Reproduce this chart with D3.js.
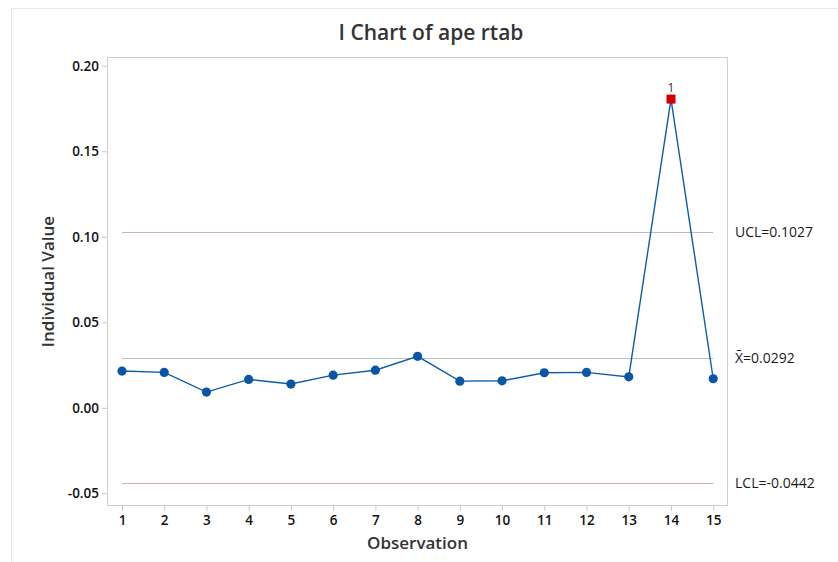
<!DOCTYPE html>
<html>
<head>
<meta charset="utf-8">
<script src="https://cdn.jsdelivr.net/npm/d3@7"></script>
<style>
  html, body { margin: 0; padding: 0; background: #fff; }
  svg { display: block; font-family: "Open Sans", "Noto Sans", sans-serif; }
</style>
</head>
<body>
<svg id="chart" width="838" height="562"></svg>
<script>
// Individual observations of ape rtab
const observations = [1, 2, 3, 4, 5, 6, 7, 8, 9, 10, 11, 12, 13, 14, 15];
const values = [0.0215, 0.0207, 0.0092, 0.0166, 0.0139, 0.0191, 0.0220, 0.0301,
                0.0156, 0.0158, 0.0205, 0.0207, 0.0181, 0.1805, 0.0170];

// Control limits
const limitNames = ["UCL", "X\u0304", "LCL"];
const limitValues = [0.1027, 0.0292, -0.0442];

// Tick labels
const yTicks = [0.20, 0.15, 0.10, 0.05, 0.00, -0.05];
const xTicks = observations;

const svg = d3.select("#chart");
const W = 838, H = 562;
const plot = { left: 107, right: 728, top: 57, bottom: 506 };

// outer figure border
svg.append("rect")
  .attr("x", 11.5).attr("y", 8.5)
  .attr("width", W).attr("height", H)
  .attr("fill", "none").attr("stroke", "#e8e8e8");

const x = d3.scaleLinear().domain([0.645, 15.35]).range([plot.left, plot.right]);
const y = d3.scaleLinear().domain([-0.0574, 0.2051]).range([plot.bottom, plot.top]);

// plot frame
svg.append("rect")
  .attr("x", plot.left + 0.5).attr("y", plot.top + 0.5)
  .attr("width", plot.right - plot.left - 1).attr("height", plot.bottom - plot.top - 1)
  .attr("fill", "none").attr("stroke", "#cfcfcf");

// axes
const yAxis = d3.axisLeft(y).tickValues(yTicks).tickFormat(d => d.toFixed(2)).tickSize(5).tickPadding(3);
const gy = svg.append("g").attr("transform", `translate(${plot.left},0)`).call(yAxis);
const xAxis = d3.axisBottom(x).tickValues(xTicks).tickFormat(d3.format("d")).tickSize(5).tickPadding(4);
const gx = svg.append("g").attr("transform", `translate(0,${plot.bottom})`).call(xAxis);
[gy, gx].forEach(g => {
  g.select(".domain").remove();
  g.selectAll(".tick line").attr("stroke", "#c8c8c8");
  g.selectAll(".tick text").attr("fill", "#111").style("font-size", "13.5px")
    .style("font-weight", "600")
    .style("font-family", '"Open Sans", sans-serif');
});

// control limit lines
const limitColors = ["#cdb0b0", "#b0cbb0", "#cdb0b0"];
svg.append("g").selectAll("line")
  .data(limitValues)
  .join("line")
  .attr("x1", x(1)).attr("x2", x(15))
  .attr("y1", d => Math.round(y(d)) + 0.5).attr("y2", d => Math.round(y(d)) + 0.5)
  .attr("stroke", (d, i) => limitColors[i]).attr("stroke-width", 1);

svg.append("g").selectAll("text")
  .data(limitValues)
  .join("text")
  .attr("x", 735).attr("y", d => y(d) + 5)
  .attr("fill", "#1a1a1a").style("font-size", "14px")
  .text((d, i) => `${limitNames[i]}=${d.toFixed(4)}`);

// series line
const pts = observations.map((o, i) => ({ o, v: values[i] }));
svg.append("path")
  .datum(pts)
  .attr("fill", "none").attr("stroke", "#0b5cad").attr("stroke-width", 1.4)
  .attr("d", d3.line().x(d => x(d.o)).y(d => y(d.v)));

const ucl = limitValues[0], lcl = limitValues[2];
const inControl = pts.filter(d => d.v <= ucl && d.v >= lcl);
const outControl = pts.filter(d => d.v > ucl || d.v < lcl);

svg.append("g").selectAll("circle")
  .data(inControl)
  .join("circle")
  .attr("cx", d => x(d.o)).attr("cy", d => y(d.v)).attr("r", 4.6)
  .attr("fill", "#0a55a5");

svg.append("g").selectAll("rect")
  .data(outControl)
  .join("rect")
  .attr("x", d => x(d.o) - 4.5).attr("y", d => y(d.v) - 4.5)
  .attr("width", 9).attr("height", 9)
  .attr("fill", "#d40000");

svg.append("g").selectAll("text")
  .data(outControl)
  .join("text")
  .attr("x", d => x(d.o)).attr("y", d => y(d.v) - 7)
  .attr("text-anchor", "middle").attr("fill", "#333").style("font-size", "12px")
  .text("1");

// titles
svg.append("text")
  .attr("x", 431).attr("y", 40)
  .attr("text-anchor", "middle").attr("fill", "#333")
  .style("font-size", "21px").style("font-weight", "600")
  .text("I Chart of ape rtab");

svg.append("text")
  .attr("x", (plot.left + plot.right) / 2).attr("y", 549)
  .attr("text-anchor", "middle").attr("fill", "#333")
  .style("font-size", "17px").style("font-weight", "600")
  .text("Observation");

svg.append("text")
  .attr("transform", `translate(54,${(plot.top + plot.bottom) / 2}) rotate(-90)`)
  .attr("text-anchor", "middle").attr("fill", "#333")
  .style("font-size", "17px").style("font-weight", "600")
  .text("Individual Value");
</script>
</body>
</html>
